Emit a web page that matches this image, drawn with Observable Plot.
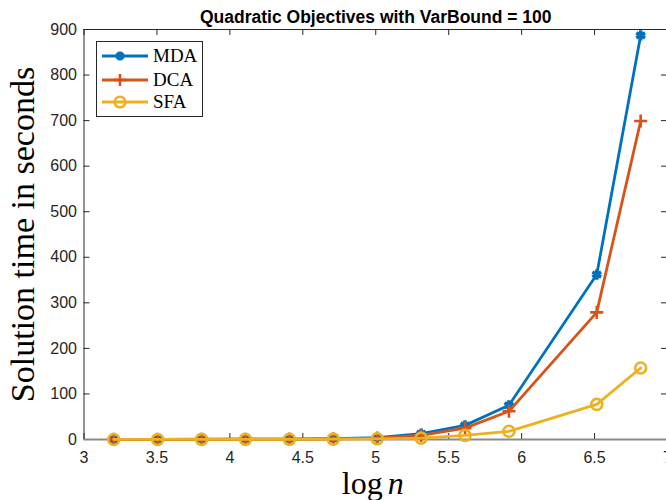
<!DOCTYPE html>
<html><head><meta charset="utf-8">
<script src="https://cdn.jsdelivr.net/npm/d3@7"></script>
<script src="https://cdn.jsdelivr.net/npm/@observablehq/plot@0.6"></script>
<style>
body{margin:0;background:#fff;}
#wrap{position:relative;width:666px;height:500px;overflow:hidden;}
#legend{position:absolute;left:96px;top:41px;width:107px;height:76px;border:1px solid #262626;background:#fff;box-sizing:border-box;font-family:"Liberation Serif",serif;font-size:19px;color:#000;}
#legend .row{position:absolute;left:0;height:22px;display:flex;align-items:center;}
#legend svg{display:block;}
#legend span{position:absolute;left:56px;top:0;line-height:22px;white-space:nowrap;}
</style></head><body><div id="wrap"></div>
<script>
const title = "Quadratic Objectives with VarBound = 100";
const xLabel = ["log", "n"];
const yLabel = "Solution time in seconds";
const seriesNames = ["MDA", "DCA", "SFA"];
const seriesColors = ["#0072BD", "#D95319", "#EDB120"];
const logN = [3.204, 3.505, 3.806, 4.107, 4.408, 4.709, 5.010, 5.311, 5.612, 5.913, 6.515, 6.816];
const mda = [0.3, 0.4, 0.5, 0.7, 1.0, 2, 4, 13, 31, 75, 362, 887];
const dca = [0.2, 0.3, 0.4, 0.6, 0.9, 1.5, 3, 9, 25, 62, 279, 699];
const sfa = [0.1, 0.1, 0.2, 0.3, 0.4, 0.8, 1.5, 3, 9, 18, 77, 157];
const xTicks = [3, 3.5, 4, 4.5, 5, 5.5, 6, 6.5, 7];
const xTickLabels = ["3", "3.5", "4", "4.5", "5", "5.5", "6", "6.5", "7"];
const yTicks = [0, 100, 200, 300, 400, 500, 600, 700, 800, 900];

const values = [mda, dca, sfa];
const data = seriesNames.map((s, k) => logN.map((x, i) => ({series: s, x, y: values[k][i]})));

const mL = 83.5, mR = -1, mT = 29, mB = 61, W = 666, H = 500;
const fw = W - mL - mR, fh = H - mT - mB;
const axisCol = "#262626";
const serif = "Liberation Serif, Times New Roman, serif";
const sans = "Liberation Sans, Arial, sans-serif";

const marks = [
  Plot.gridX(xTicks, {stroke: axisCol, strokeOpacity: 1, strokeWidth: 1, insetTop: fh - 6}),
  Plot.gridX(xTicks, {stroke: axisCol, strokeOpacity: 1, strokeWidth: 1, insetBottom: fh - 6}),
  Plot.gridY(yTicks, {stroke: axisCol, strokeOpacity: 1, strokeWidth: 1, insetRight: fw - 6}),
  Plot.gridY(yTicks, {stroke: axisCol, strokeOpacity: 1, strokeWidth: 1, insetLeft: fw - 6}),
  Plot.ruleX([3], {stroke: axisCol, strokeWidth: 1}),
  Plot.ruleY([900], {stroke: axisCol, strokeWidth: 1}),
  Plot.ruleY([0], {stroke: "#8a8a8a", strokeWidth: 2}),
  Plot.axisX(xTicks, {tickSize: 0, tickPadding: 12, tickFormat: (d, i) => xTickLabels[i], fill: axisCol, fontSize: 16, label: null}),
  Plot.axisY(yTicks, {tickSize: 0, tickPadding: 7, fill: axisCol, fontSize: 16, label: null}),
];
const symbols = ["asterisk", "plus", "circle"];
const radii = [4.8, 4.3, 5.5];
const sw = [3.6, 2.6, 2.6];
data.forEach((d, k) => {
  marks.push(Plot.line(d, {x: "x", y: "y", stroke: seriesColors[k], strokeWidth: 2.8}));
  marks.push(Plot.dot(d, {x: "x", y: "y", stroke: seriesColors[k], symbol: symbols[k], r: radii[k], strokeWidth: sw[k], fill: "none"}));
});
marks.push(
  Plot.text([title], {frameAnchor: "top", lineAnchor: "middle", dy: -12, fontWeight: "bold", fontSize: 17.5, fill: "#000", fontFamily: sans}),
  Plot.text([yLabel], {frameAnchor: "left", textAnchor: "middle", lineAnchor: "middle", rotate: -90, dx: -61, fontSize: 34, fill: "#000", fontFamily: serif}),
  Plot.text([xLabel[0]], {frameAnchor: "bottom", lineAnchor: "middle", dx: 7, dy: 44, textAnchor: "end", fontSize: 32, fill: "#000", fontFamily: serif}),
  Plot.text([xLabel[1]], {frameAnchor: "bottom", lineAnchor: "middle", dx: 12, dy: 44, textAnchor: "start", fontSize: 32, fontStyle: "italic", fill: "#000", fontFamily: serif})
);

const chart = Plot.plot({
  width: W, height: H,
  marginLeft: mL, marginRight: mR, marginTop: mT, marginBottom: mB,
  x: {domain: [3, 7], label: null},
  y: {domain: [0, 900], label: null},
  style: {fontFamily: sans, fontSize: "16px", background: "white", color: axisCol, overflow: "visible"},
  marks
});
const wrap = document.getElementById("wrap");
wrap.appendChild(chart);

// legend
const legend = document.createElement("div");
legend.id = "legend";
const rowY = [3, 27, 49];
seriesNames.forEach((s, k) => {
  const row = document.createElement("div");
  row.className = "row";
  row.style.top = rowY[k] + "px";
  const c = seriesColors[k];
  let marker;
  if (k === 0) marker = `<g stroke="${c}" stroke-width="3.2"><line x1="23" y1="6.5" x2="23" y2="15.5"/><line x1="18.5" y1="11" x2="27.5" y2="11"/><line x1="19.8" y1="7.8" x2="26.2" y2="14.2"/><line x1="19.8" y1="14.2" x2="26.2" y2="7.8"/></g>`;
  else if (k === 1) marker = `<g stroke="${c}" stroke-width="2.6"><line x1="23" y1="5" x2="23" y2="17"/><line x1="17" y1="11" x2="29" y2="11"/></g>`;
  else marker = `<circle cx="23" cy="11" r="5.3" fill="none" stroke="${c}" stroke-width="2.6"/>`;
  row.innerHTML = `<svg width="56" height="22"><line x1="5" y1="11" x2="51" y2="11" stroke="${c}" stroke-width="2.8"/>${marker}</svg><span>${s}</span>`;
  legend.appendChild(row);
});
wrap.appendChild(legend);
</script>
</body></html>
